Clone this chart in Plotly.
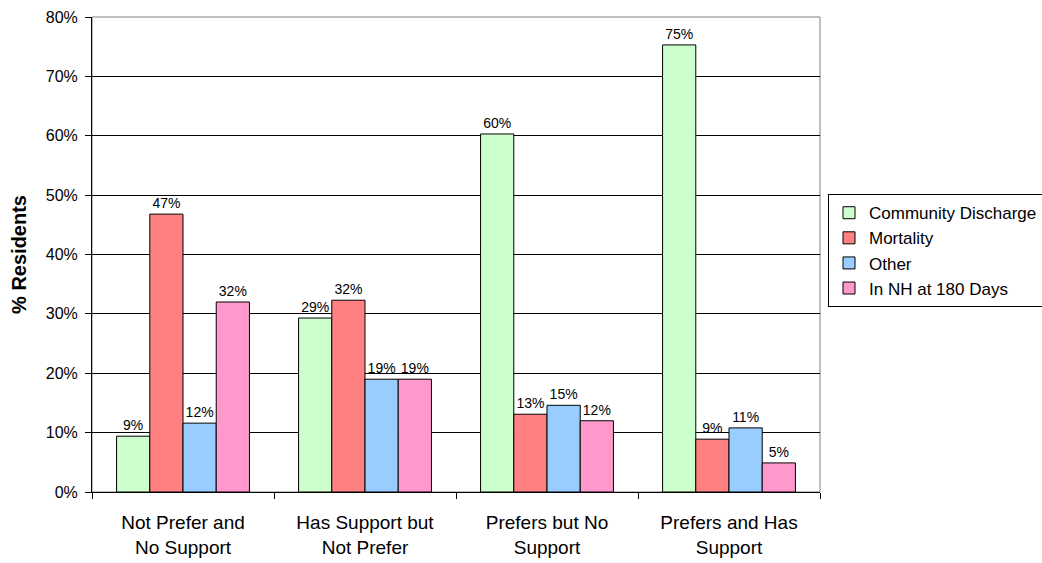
import plotly.graph_objects as go

categories = ["Not Prefer and<br>No Support", "Has Support but<br>Not Prefer",
              "Prefers but No<br>Support", "Prefers and Has<br>Support"]
community_discharge = [9.4, 29.3, 60.3, 75.3]
mortality = [46.8, 32.3, 13.1, 8.9]
other = [11.6, 19.0, 14.6, 10.8]
in_nh_180 = [32.0, 19.0, 12.0, 4.9]

series = [
    ("Community Discharge", community_discharge, "#CCFFCC"),
    ("Mortality", mortality, "#FF8080"),
    ("Other", other, "#99CCFF"),
    ("In NH at 180 Days", in_nh_180, "#FF99CC"),
]

FONT = "Liberation Sans, Arial, sans-serif"

fig = go.Figure()
for name, vals, color in series:
    fig.add_trace(go.Bar(
        name=name, x=categories, y=vals,
        marker=dict(color=color, line=dict(color="#000000", width=1)),
        texttemplate="%{y:.0f}%", textposition="outside",
        textfont=dict(family=FONT, size=14, color="#000000"),
        constraintext="none", cliponaxis=False,
    ))

fig.update_layout(
    width=1042, height=563,
    margin=dict(l=92, r=222, t=17, b=71, autoexpand=False),
    paper_bgcolor="white", plot_bgcolor="white",
    barmode="group", bargap=0.27, bargroupgap=0,
    font=dict(family=FONT, color="#000000"),
    showlegend=True,
    legend=dict(
        x=1.011, y=0.627, xanchor="left", yanchor="top",
        bordercolor="#000000", borderwidth=1,
        font=dict(family=FONT, size=17, color="#000000"),
        bgcolor="white",
        itemwidth=30,
    ),
    xaxis=dict(
        showline=True, linecolor="#000000", linewidth=1,
        ticks="outside", tickson="boundaries", ticklen=6, tickcolor="#000000",
        tickfont=dict(family=FONT, size=19, color="#000000"),
        ticklabelstandoff=13,
        showgrid=False, automargin=False,
    ),
    yaxis=dict(
        range=[0, 80], dtick=10, ticksuffix="%",
        showline=True, linecolor="#000000", linewidth=1,
        ticks="outside", ticklen=6, tickcolor="#000000",
        tickfont=dict(family=FONT, size=16, color="#000000"),
        ticklabelstandoff=4,
        showgrid=True, gridcolor="#000000", gridwidth=1,
        zeroline=False, automargin=False,
        title=dict(text="<b>% Residents</b>", font=dict(family=FONT, size=20, color="#000000"), standoff=13),
    ),
)

fig.add_shape(type="rect", xref="paper", yref="paper", x0=0, y0=0, x1=1, y1=1,
              line=dict(color="#808080", width=1), layer="below")

fig.write_html("out.html")
